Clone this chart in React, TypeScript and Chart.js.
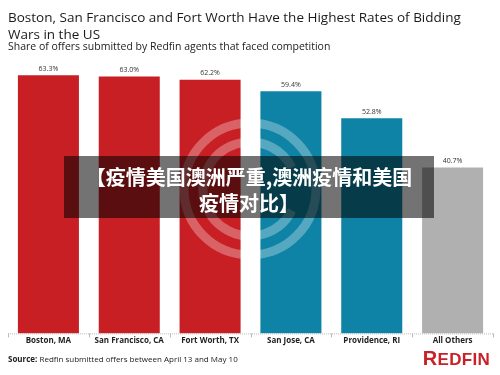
import React, { useEffect, useRef } from "react";
import { Chart, registerables } from "chart.js";

Chart.register(...registerables);

const categories = ["Boston, MA", "San Francisco, CA", "Fort Worth, TX", "San Jose, CA", "Providence, RI", "All Others"];
const shares = [63.3, 63.0, 62.2, 59.4, 52.8, 40.7];
const barColors = ["#C81F24", "#C81F24", "#C81F24", "#0E83A5", "#0E83A5", "#B0B0B0"];

const titleText = "Boston, San Francisco and Fort Worth Have the Highest Rates of Bidding Wars in the US";
const subtitleText = "Share of offers submitted by Redfin agents that faced competition";
const bannerLines = ["【疫情美国澳洲严重,澳洲疫情和美国", "疫情对比】"];

const FONT = "'Open Sans', 'DejaVu Sans', sans-serif";

const valueLabels = {
  id: "valueLabels",
  afterDatasetsDraw(chart: any) {
    const ctx = chart.ctx;
    const meta = chart.getDatasetMeta(0);
    ctx.save();
    ctx.font = `7px ${FONT}`;
    ctx.fillStyle = "#333";
    ctx.textAlign = "center";
    ctx.textBaseline = "bottom";
    meta.data.forEach((bar: any, i: number) => {
      ctx.fillText(shares[i].toFixed(1) + "%", bar.x, bar.y - 3);
    });
    ctx.restore();
  },
};

const watermark = {
  id: "watermark",
  afterDatasetsDraw(chart: any) {
    const ctx = chart.ctx;
    ctx.save();
    ctx.strokeStyle = "rgba(255,255,255,0.3)";
    ctx.lineWidth = 9;
    ctx.beginPath();
    ctx.arc(250, 189, 66, 0, Math.PI * 2);
    ctx.stroke();
    ctx.beginPath();
    ctx.arc(250, 189, 47, Math.PI * 0.15, Math.PI * 1.85);
    ctx.stroke();
    ctx.restore();
  },
};

const baseline = {
  id: "baseline",
  afterDatasetsDraw(chart: any) {
    const ctx = chart.ctx;
    const area = chart.chartArea;
    ctx.save();
    ctx.strokeStyle = "#BBBBBB";
    ctx.lineWidth = 1;
    ctx.setLineDash([1, 1]);
    ctx.beginPath();
    ctx.moveTo(area.left, area.bottom + 0.5);
    ctx.lineTo(area.right, area.bottom + 0.5);
    ctx.stroke();
    ctx.setLineDash([]);
    for (let i = 0; i <= categories.length; i++) {
      const px = Math.round(area.left + ((area.right - area.left) * i) / categories.length) + 0.5;
      ctx.beginPath();
      ctx.moveTo(px, area.bottom);
      ctx.lineTo(px, area.bottom + 4);
      ctx.stroke();
    }
    ctx.restore();
  },
};

export default function App() {
  const ref = useRef<HTMLCanvasElement>(null);
  useEffect(() => {
    const chart = new Chart(ref.current!, {
      type: "bar",
      data: {
        labels: categories,
        datasets: [
          {
            data: shares,
            backgroundColor: barColors,
            borderWidth: 0,
            categoryPercentage: 1,
            barPercentage: 0.755,
          },
        ],
      },
      options: {
        animation: false,
        responsive: false,
        maintainAspectRatio: false,
        layout: { padding: { left: 8, right: 7, top: 48, bottom: 26 } },
        plugins: { legend: { display: false }, tooltip: { enabled: false }, title: { display: false } },
        scales: {
          x: {
            grid: { display: false, drawTicks: false },
            border: { display: false },
            ticks: {
              padding: 3,
              color: "#222",
              maxRotation: 0,
              autoSkip: false,
              font: { family: FONT, size: 8, weight: "bold" },
            },
          },
          y: { display: false, min: 0, max: 70 },
        },
      },
      plugins: [baseline, valueLabels, watermark],
    });
    return () => chart.destroy();
  }, []);

  return (
    <div style={{ position: "fixed", left: 0, top: 0, width: 500, height: 375, background: "#fff", overflow: "hidden", fontFamily: FONT }}>
      <canvas ref={ref} width={500} height={375} style={{ position: "absolute", left: 0, top: 0 }} />
      <div style={{ position: "absolute", left: 8, top: 9, width: 480, fontSize: 13.5, lineHeight: "17px", color: "#1a1a1a" }}>
        {titleText}
      </div>
      <div style={{ position: "absolute", left: 8, top: 40, fontSize: 10.5, lineHeight: "12px", color: "#222" }}>
        {subtitleText}
      </div>
      <div style={{ position: "absolute", left: 8, top: 353, fontSize: 8, lineHeight: "12px", color: "#222" }}>
        <b>Source:</b> Redfin submitted offers between April 13 and May 10
      </div>
      <div style={{ position: "absolute", right: 10, top: 348, fontSize: 17, lineHeight: "21px", fontWeight: 700, color: "#C82127", fontFamily: "'Liberation Sans', Arial, sans-serif", letterSpacing: 0.3 }}>
        <span style={{ fontSize: 20 }}>R</span>EDFIN
      </div>
      <div style={{ position: "absolute", left: 64, top: 156, width: 370, height: 62, background: "rgba(0,0,0,0.55)", color: "#fff", fontFamily: "'Noto Sans CJK SC', sans-serif", fontWeight: 700, fontSize: 20, lineHeight: "26px", textAlign: "center", paddingTop: 8, boxSizing: "border-box" }}>
        {bannerLines.map((l, i) => (
          <div key={i}>{l}</div>
        ))}
      </div>
    </div>
  );
}
